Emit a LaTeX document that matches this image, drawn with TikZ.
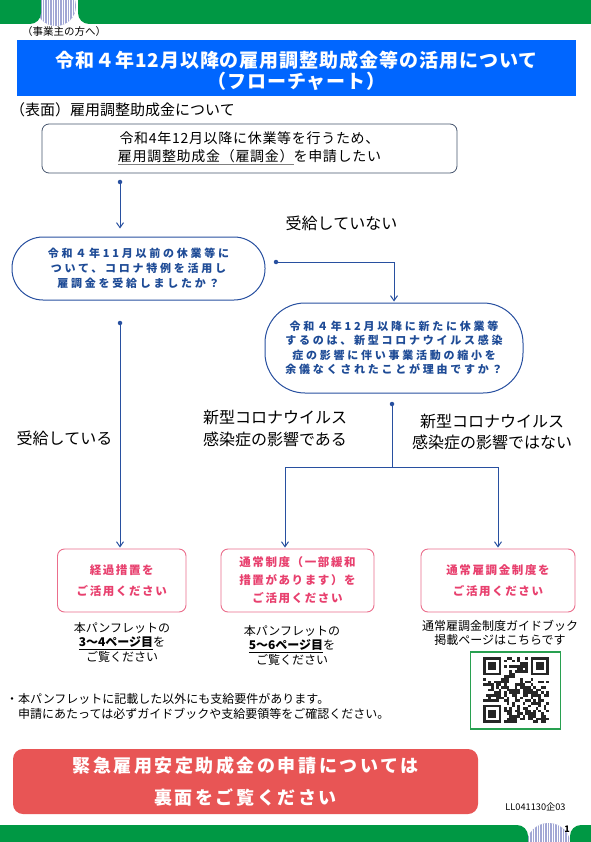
\documentclass[tikz,border=0pt]{standalone}
\usepackage{fontspec}
\setmainfont{Noto Sans CJK JP}
\newfontfamily\jpwide[LetterSpace=25]{Noto Sans CJK JP}
\newfontfamily\jpmid[LetterSpace=14]{Noto Sans CJK JP}
\newfontfamily\jpthin[LetterSpace=5]{Noto Sans CJK JP}
\usetikzlibrary{shapes.geometric, arrows.meta, positioning, calc}

\definecolor{grn}{RGB}{0,152,68}
\definecolor{lav}{RGB}{160,166,212}
\definecolor{titleblue}{RGB}{0,102,255}
\definecolor{flowblue}{RGB}{40,80,160}
\definecolor{qblue}{RGB}{30,75,150}
\definecolor{slate}{RGB}{70,85,110}
\definecolor{pinkline}{RGB}{235,110,140}
\definecolor{pinktext}{RGB}{232,64,110}
\definecolor{redbox}{RGB}{232,85,85}
\definecolor{qrgreen}{RGB}{40,160,80}

\begin{document}
\begin{tikzpicture}[x=1pt, y=-1pt,
    start/.style={rectangle, draw=slate, line width=0.8pt, rounded corners=7pt, inner sep=0pt, align=center, font=\jpthin\fontsize{14}{18}\selectfont},
    question/.style={rectangle, draw=flowblue, line width=1pt, inner sep=0pt, align=center, text=qblue, font=\jpwide\bfseries\fontsize{11}{15}\selectfont},
    result/.style={rectangle, draw=pinkline, line width=0.9pt, rounded corners=7pt, inner sep=0pt, minimum height=63pt, align=center, text=pinktext, font=\jpmid\bfseries\fontsize{11.5}{21}\selectfont},
    hint/.style={align=center, inner sep=0pt, font=\fontsize{12}{14.5}\selectfont},
    answer/.style={align=center, inner sep=0pt, font=\fontsize{16}{21.5}\selectfont},
    dot/.style={circle, fill=flowblue, inner sep=0pt, minimum size=4.5pt},
    flow/.style={draw=flowblue, line width=1pt, -{Straight Barb[length=5pt,width=7pt]}},
    line/.style={draw=flowblue, line width=1pt}
]
\useasboundingbox (0,0) rectangle (590,842);
\fill[white] (0,0) rectangle (590,842);

% top and bottom bands
\begin{scope}
  \clip (56,6) circle (20);
  \fill[lav] (36,-14) rectangle (76,26);
  \foreach \s in {37,39.5,...,76} \draw[white, line width=0.9pt] (\s,-14) -- (\s,26);
\end{scope}
\fill[grn, rounded corners=11pt] (-20,-20) rectangle (41,24);
\fill[grn, rounded corners=11pt] (78,-20) rectangle (610,24);
\begin{scope}
  \clip (548.5,845) circle (22);
  \fill[lav] (526,822) rectangle (571,845);
  \foreach \s in {527,529.5,...,571} \draw[white, line width=0.9pt] (\s,822) -- (\s,845);
\end{scope}
\fill[grn, rounded corners=11pt] (-20,825) rectangle (528,862);
\fill[grn, rounded corners=11pt] (570,825) rectangle (610,862);
\node[font=\bfseries\fontsize{9}{9}\selectfont, inner sep=0pt] (page) at (567,829) {1};

% headings
\node[font=\fontsize{10.5}{12}\selectfont, inner sep=0pt] (audience) at (64,32) {（事業主の方へ）};
\node[rectangle, fill=titleblue, minimum width=559pt, minimum height=56pt, inner sep=0pt] (title) at (296.5,68) {};
\node[align=center, text=white, inner sep=0pt, font=\jpthin\bfseries\fontsize{19}{21}\selectfont] (titletext) at (296.5,71)
  {令和４年12月以降の雇用調整助成金等の活用について\\（フローチャート）};
\node[anchor=west, font=\fontsize{15}{17}\selectfont, inner sep=0pt] (side) at (10,110) {（表面）雇用調整助成金について};

% flow chart
\node[start, minimum width=415pt, minimum height=49pt] (apply) at (249.5,148.5)
  {令和4年12月以降に休業等を行うため、\\\textcolor{gray}{\underline{\textcolor{black}{雇用調整助成金（雇調金）}}}を申請したい};
\node[question, rounded corners=31pt, minimum width=253pt, minimum height=63pt] (special) at (138.5,268.5)
  {令和４年11月以前の休業等に\\ついて、コロナ特例を活用し\\雇調金を受給しましたか？};
\node[question, rounded corners=40pt, minimum width=258pt, minimum height=90pt, font=\jpwide\bfseries\fontsize{11}{14.5}\selectfont] (reason) at (394,348)
  {令和４年12月以降に新たに休業等\\するのは、新型コロナウイルス感染\\症の影響に伴い事業活動の縮小を\\余儀なくされたことが理由ですか？};

\node[result, minimum width=128.5pt] (transit) at (121.75,580.5) {経過措置を\\ご活用ください};
\node[result, minimum width=153pt, font=\jpmid\bfseries\fontsize{11.5}{18}\selectfont] (eased) at (297.5,580.5) {通常制度（一部緩和\\措置があります）を\\ご活用ください};
\node[result, minimum width=154pt] (normal) at (498,580.5) {通常雇調金制度を\\ご活用ください};

\node[hint] (seeA) at (122,642) {本パンフレットの\\\underline{\textbf{3～4ページ目}}を\\ご覧ください};
\node[hint] (seeB) at (292,645) {本パンフレットの\\\underline{\textbf{5～6ページ目}}を\\ご覧ください};
\node[hint] (seeC) at (500,633) {通常雇調金制度ガイドブック\\掲載ページはこちらです};

\node[answer] (notyet) at (341.5,223) {受給していない};
\node[answer] (already) at (64.5,438) {受給している};
\node[answer] (covid) at (275,428.5) {新型コロナウイルス\\感染症の影響である};
\node[answer] (other) at (492,432) {新型コロナウイルス\\感染症の影響ではない};

% connectors
\node[dot] (d1) at (120,182) {};
\node[dot] (d2) at (276,262) {};
\node[dot] (d3) at (120,323) {};
\node[dot] (d4) at (392,404) {};
\coordinate (split) at (392,467);
\coordinate (splitL) at (285,467);
\coordinate (splitR) at (498,467);

\path[flow, shorten >=8pt] (d1) -- (d1 |- special.north);
\path[flow, shorten >=1pt] (d2) -| (reason.north);
\path[flow, shorten >=1pt] (d3) -- (d3 |- transit.north);
\path[line] (d4) -- (split);
\path[line] (splitL) -- (splitR);
\path[flow, shorten >=1pt] (splitL) -- (splitL |- eased.north);
\path[flow, shorten >=1pt] (splitR) -- (splitR |- normal.north);

% QR code
\node[rectangle, draw=qrgreen, line width=1.5pt, minimum width=90pt, minimum height=77pt, inner sep=0pt] (qr) at (515.5,690.5) {};
\pgfmathsetseed{7}
\foreach \i in {0,...,24}{
  \foreach \j in {0,...,24}{
    \pgfmathrandominteger{\qbit}{0}{1}
    \ifnum\qbit=1 \fill[black!85] (483+\i*2.64, 657+\j*2.64) rectangle ++(2.64,2.64); \fi
  }
}
\foreach \fx/\fy/\cx/\cy in {483/657/483/657, 530.52/657/527.88/657, 483/704.52/483/701.88}{
  \fill[white] (\cx,\cy) rectangle ++(21.12,21.12);
  \fill[black!85] (\fx,\fy) rectangle ++(18.48,18.48);
  \fill[white] (\fx+2.64,\fy+2.64) rectangle ++(13.2,13.2);
  \fill[black!85] (\fx+5.28,\fy+5.28) rectangle ++(7.92,7.92);
}

% notes and footer
\node[anchor=north west, align=left, inner sep=0pt, font=\fontsize{12}{15}\selectfont] (note) at (6,693)
  {・本パンフレットに記載した以外にも支給要件があります。\\\hspace*{12pt}申請にあたっては必ずガイドブックや支給要領等をご確認ください。};
\node[rectangle, fill=redbox, rounded corners=10pt, minimum width=465pt, minimum height=65pt, inner sep=0pt, align=center, text=white,
      font=\jpmid\bfseries\fontsize{18}{32}\selectfont] (back) at (245.5,781.5)
  {緊急雇用安定助成金の申請については\\裏面をご覧ください};
\node[font=\fontsize{9.2}{10}\selectfont, inner sep=0pt] (code) at (535.5,807) {LL041130企03};
\end{tikzpicture}
\end{document}
